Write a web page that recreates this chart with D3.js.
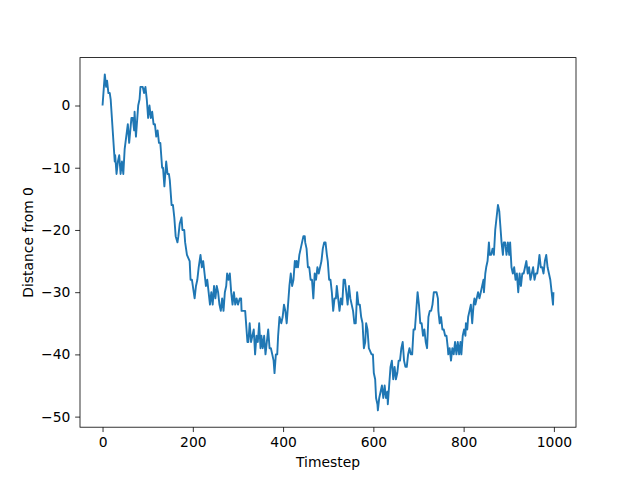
<!DOCTYPE html>
<html>
<head>
<meta charset="utf-8">
<script src="https://cdn.jsdelivr.net/npm/d3@7"></script>
<style>
  body { margin: 0; background: #fff; }
  text { font-family: "DejaVu Sans", sans-serif; }
</style>
</head>
<body>
<script>
// random walk, vertices
var timestep = [0,5,8,10,13,16,18,27,28,31,34,37,40,43,46,49,56,59,64,67,70,71,74,77,79,82,84,89,92,95,
  98,101,104,107,110,113,116,119,122,125,128,132,134,137,141,144,147,149,153,156,159,162,166,168,171,175,177,181,183,187,
  193,195,198,200,204,207,210,213,217,220,223,226,229,232,235,238,241,244,247,250,253,256,259,262,265,268,271,274,276,279,
  282,285,288,291,294,297,300,304,307,308,311,314,316,321,323,326,329,332,335,338,341,344,347,350,352,355,358,361,364,367,
  370,373,376,379,381,384,387,389,392,396,399,402,405,408,412,414,417,420,423,426,429,430,433,436,439,442,445,448,449,452,
  455,458,461,464,467,470,473,476,479,482,485,488,491,494,497,499,502,505,508,511,514,517,519,522,525,528,531,534,537,540,
  543,546,549,552,555,558,561,564,567,570,573,576,579,582,584,587,590,596,599,601,604,606,609,610,613,616,619,622,625,628,
  631,632,635,638,641,644,647,650,653,656,659,662,665,668,671,674,677,680,683,686,689,692,695,698,701,704,707,710,713,716,
  719,722,725,728,731,734,737,740,743,744,747,750,753,756,759,762,765,766,769,772,775,778,781,784,787,790,793,795,798,801,
  804,805,808,810,813,816,819,822,824,826,829,832,835,838,841,844,845,848,850,853,856,858,861,864,867,870,873,876,879,881,
  884,887,889,892,895,898,901,903,906,909,912,915,918,921,924,927,930,933,936,939,942,945,948,951,954,957,960,963,965,968,
  971,974,977,980,983,986,989,992,995,998,999];

var distance = [0,5,3,4,2,2,1,-9,-8,-11,-9,-8,-11,-9,-11,-7,-3,-6,-2,-2,-4,-1,-5,-2,0,1,3,3,2,3,
  1,-2,0,-2,-1,-3,-3,-5,-4,-6,-6,-10,-10,-13,-9,-11,-11,-12,-16,-16,-18,-21,-22,-21,-19,-18,-20,-20,-22,-24,
  -25,-28,-28,-29,-31,-29,-28,-26,-24,-26,-25,-27,-29,-28,-30,-32,-30,-32,-29,-31,-29,-30,-32,-33,-31,-33,-30,-29,-27,-28,
  -27,-30,-32,-30,-32,-31,-32,-31,-31,-33,-33,-33,-33,-38,-38,-35,-38,-37,-36,-40,-37,-38,-35,-39,-37,-39,-37,-40,-38,-36,
  -39,-39,-40,-41,-43,-40,-40,-37,-34,-35,-34,-32,-33,-35,-31,-29,-27,-29,-28,-25,-26,-25,-26,-24,-23,-22,-21,-21,-22,-23,
  -26,-26,-28,-28,-31,-27,-28,-26,-27,-26,-25,-23,-22,-22,-24,-25,-28,-28,-30,-33,-31,-31,-29,-31,-33,-31,-32,-28,-28,-30,
  -32,-29,-31,-32,-33,-35,-35,-30,-32,-32,-34,-35,-39,-38,-35,-36,-39,-40,-40,-43,-44,-47,-48,-49,-47,-46,-45,-47,-45,-47,
  -46,-48,-45,-42,-41,-44,-42,-44,-43,-41,-41,-39,-38,-41,-42,-42,-40,-39,-40,-40,-36,-36,-33,-30,-32,-35,-35,-37,-36,-38,
  -39,-34,-33,-33,-32,-30,-30,-30,-31,-33,-35,-34,-36,-36,-37,-37,-39,-40,-39,-41,-39,-40,-38,-40,-38,-40,-38,-40,-37,-36,
  -37,-35,-36,-34,-33,-32,-35,-32,-31,-32,-31,-30,-31,-30,-29,-28,-30,-27,-26,-25,-22,-24,-24,-23,-24,-20,-18,-16,-17,-19,
  -22,-24,-22,-22,-24,-22,-24,-22,-26,-27,-26,-28,-27,-30,-27,-29,-27,-27,-26,-25,-27,-26,-28,-27,-26,-28,-27,-27,-26,-24,
  -26,-26,-27,-25,-24,-26,-27,-28,-30,-32,-30];

var xTicks = [0, 200, 400, 600, 800, 1000];
var xTickLabels = ["0", "200", "400", "600", "800", "1000"];
var yTicks = [0, -10, -20, -30, -40, -50];
var yTickLabels = ["0", "\u221210", "\u221220", "\u221230", "\u221240", "\u221250"];

var width = 640, height = 480;
var mLeft = 80, mRight = 576, mTop = 57.6, mBottom = 427.2;
var tick = 4.86, fs = 13.89;

var svg = d3.select("body").append("svg")
  .attr("width", width)
  .attr("height", height);

svg.append("rect").attr("width", width).attr("height", height).attr("fill", "#fff");

// matplotlib style 5% margins
var xPad = (d3.max(timestep) - d3.min(timestep)) * 0.05;
var yPad = (d3.max(distance) - d3.min(distance)) * 0.05;

var x = d3.scaleLinear()
  .domain([d3.min(timestep) - xPad, d3.max(timestep) + xPad])
  .range([mLeft, mRight]);
var y = d3.scaleLinear()
  .domain([d3.min(distance) - yPad, d3.max(distance) + yPad])
  .range([mBottom, mTop]);

var pts = timestep.map(function (t, i) { return [t, distance[i]]; });

// slightly heavier than 1.5 to stand in for the dense step-by-step jitter
svg.append("path")
  .datum(pts)
  .attr("fill", "none")
  .attr("stroke", "#1f77b4")
  .attr("stroke-width", 1.9)
  .attr("stroke-linejoin", "round")
  .attr("d", d3.line()
    .x(function (d) { return x(d[0]); })
    .y(function (d) { return y(d[1]); }));

var xAxis = svg.append("g")
  .attr("transform", "translate(0," + mBottom + ")")
  .call(d3.axisBottom(x).tickValues(xTicks)
    .tickFormat(function (d, i) { return xTickLabels[i]; })
    .tickSize(tick).tickPadding(tick).tickSizeOuter(0));

var yAxis = svg.append("g")
  .attr("transform", "translate(" + mLeft + ",0)")
  .call(d3.axisLeft(y).tickValues(yTicks)
    .tickFormat(function (d, i) { return yTickLabels[i]; })
    .tickSize(tick).tickPadding(tick).tickSizeOuter(0));

[xAxis, yAxis].forEach(function (g) {
  g.select(".domain").remove();
  g.selectAll("line").attr("stroke", "#000").attr("stroke-width", 0.8);
  g.selectAll("text")
    .attr("fill", "#000")
    .style("font-family", "'DejaVu Sans', sans-serif")
    .style("font-size", fs + "px");
});

// frame
svg.append("rect")
  .attr("x", mLeft).attr("y", mTop)
  .attr("width", mRight - mLeft).attr("height", mBottom - mTop)
  .attr("fill", "none")
  .attr("stroke", "#000")
  .attr("stroke-width", 0.8);

svg.append("text")
  .attr("x", (mLeft + mRight) / 2)
  .attr("y", 467)
  .attr("text-anchor", "middle")
  .style("font-size", fs + "px")
  .text("Timestep");

svg.append("text")
  .attr("transform", "translate(32.5," + ((mTop + mBottom) / 2) + ") rotate(-90)")
  .attr("text-anchor", "middle")
  .style("font-size", fs + "px")
  .text("Distance from 0");
</script>
</body>
</html>
